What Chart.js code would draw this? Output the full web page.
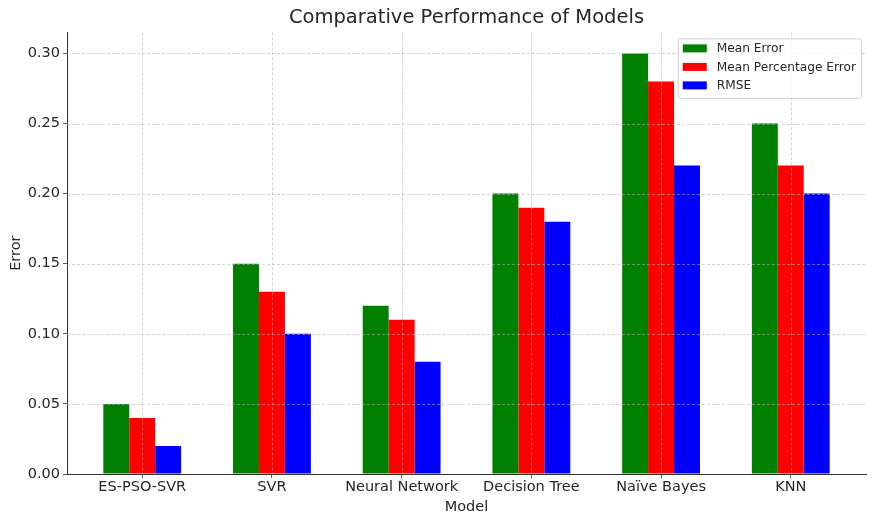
<!DOCTYPE html>
<html>
<head>
<meta charset="utf-8">
<script src="https://cdn.jsdelivr.net/npm/chart.js@4"></script>
<style>
  html, body { margin: 0; padding: 0; background: #fff; }
  #wrap { width: 876px; height: 522px; }
</style>
</head>
<body>
<div id="wrap"><canvas id="perfChart" width="876" height="522"></canvas></div>
<script>
const models = ["ES-PSO-SVR", "SVR", "Neural Network", "Decision Tree", "Naïve Bayes", "KNN"];
const meanError = [0.05, 0.15, 0.12, 0.20, 0.30, 0.25];
const meanPctError = [0.04, 0.13, 0.11, 0.19, 0.28, 0.22];
const rmse = [0.02, 0.10, 0.08, 0.18, 0.22, 0.20];
const yTicks = [0, 0.05, 0.10, 0.15, 0.20, 0.25, 0.30];

const FONT = "DejaVu Sans";
const TEXT = "#262626";
const TITLE = "Comparative Performance of Models";

function points(values) {
  return values.map((v, i) => ({ x: i, y: v }));
}

// dashed grid drawn above the bars, like the matplotlib original
const gridOnTop = {
  id: "gridOnTop",
  afterDatasetsDraw(chart) {
    const { ctx, chartArea, scales } = chart;
    ctx.save();
    ctx.strokeStyle = "rgba(176,176,176,0.7)";
    ctx.lineWidth = 0.8;
    ctx.setLineDash([3, 2]);
    scales.x.ticks.forEach(t => {
      const px = Math.round(scales.x.getPixelForValue(t.value)) + 0.5;
      ctx.beginPath();
      ctx.moveTo(px, chartArea.top);
      ctx.lineTo(px, chartArea.bottom);
      ctx.stroke();
    });
    scales.y.ticks.forEach(t => {
      if (t.value === 0) return;
      const py = Math.round(scales.y.getPixelForValue(t.value)) + 0.5;
      ctx.beginPath();
      ctx.moveTo(chartArea.left, py);
      ctx.lineTo(chartArea.right, py);
      ctx.stroke();
    });
    ctx.restore();
  }
};

// title centred over the plot area (built-in title only reserves the space)
const plotTitle = {
  id: "plotTitle",
  afterDraw(chart) {
    const { ctx, chartArea } = chart;
    ctx.save();
    ctx.font = "19.5px '" + FONT + "'";
    ctx.fillStyle = TEXT;
    ctx.textAlign = "center";
    ctx.textBaseline = "middle";
    ctx.fillText(TITLE, (chartArea.left + chartArea.right) / 2, 17.5);
    ctx.restore();
  }
};

// legend box inside the plot, upper right
const insideLegend = {
  id: "insideLegend",
  afterDraw(chart) {
    const { ctx, chartArea } = chart;
    const sets = chart.data.datasets;
    ctx.save();
    ctx.font = "12.2px '" + FONT + "'";
    const textW = Math.max(...sets.map(d => ctx.measureText(d.label).width));
    const w = 39 + textW + 5;
    const rowH = 18.5;
    const h = sets.length * rowH + 4;
    const x = chartArea.right - 5 - w;
    const y = chartArea.top + 6;
    ctx.fillStyle = "rgba(255,255,255,0.85)";
    ctx.strokeStyle = "#d0d0d0";
    ctx.lineWidth = 1;
    ctx.beginPath();
    ctx.roundRect(x + 0.5, y + 0.5, w, h, 3);
    ctx.fill();
    ctx.stroke();
    ctx.textBaseline = "middle";
    sets.forEach((d, i) => {
      const cy = y + 10 + i * rowH;
      ctx.fillStyle = d.backgroundColor;
      ctx.fillRect(x + 5, cy - 4, 24, 8);
      ctx.fillStyle = TEXT;
      ctx.fillText(d.label, x + 39, cy + 0.5);
    });
    ctx.restore();
  }
};

new Chart(document.getElementById("perfChart").getContext("2d"), {
  type: "bar",
  data: {
    datasets: [
      { label: "Mean Error", data: points(meanError), backgroundColor: "#008000" },
      { label: "Mean Percentage Error", data: points(meanPctError), backgroundColor: "#ff0000" },
      { label: "RMSE", data: points(rmse), backgroundColor: "#0000ff" }
    ]
  },
  options: {
    responsive: false,
    animation: false,
    layout: { padding: { left: 0, right: 10, top: 0, bottom: 0 } },
    datasets: { bar: { categoryPercentage: 0.6, barPercentage: 1.0, borderWidth: 0 } },
    plugins: {
      legend: { display: false },
      tooltip: { enabled: false },
      title: {
        display: true,
        text: TITLE,
        color: "rgba(0,0,0,0)",
        font: { family: FONT, size: 19.5, weight: "normal" },
        padding: { top: 6, bottom: 3 }
      }
    },
    scales: {
      x: {
        type: "linear",
        min: -0.58,
        max: 5.58,
        offset: false,
        afterBuildTicks: axis => { axis.ticks = models.map((m, i) => ({ value: i })); },
        ticks: {
          color: TEXT,
          font: { family: FONT, size: 14.5 },
          padding: 1,
          maxRotation: 0,
          autoSkip: false,
          callback: v => models[v]
        },
        grid: { offset: false, drawOnChartArea: false, tickLength: 4, color: "#333", tickWidth: 0.8 },
        border: { color: "#333", width: 1 },
        title: {
          display: true,
          text: "Model",
          color: TEXT,
          font: { family: FONT, size: 14.5 },
          padding: { top: 0, bottom: 6 }
        },
        afterFit: scale => { scale.height = 48; }
      },
      y: {
        min: 0,
        max: 0.315,
        afterBuildTicks: axis => { axis.ticks = yTicks.map(v => ({ value: v })); },
        ticks: {
          color: TEXT,
          font: { family: FONT, size: 14.5 },
          padding: 3,
          callback: v => v.toFixed(2)
        },
        grid: { drawOnChartArea: false, tickLength: 4, color: "#333", tickWidth: 0.8 },
        border: { color: "#333", width: 1 },
        title: {
          display: true,
          text: "Error",
          color: TEXT,
          font: { family: FONT, size: 14.5 },
          padding: { top: 8, bottom: 0 }
        },
        afterFit: scale => { scale.width = 67; }
      }
    }
  },
  plugins: [gridOnTop, plotTitle, insideLegend]
});
</script>
</body>
</html>
